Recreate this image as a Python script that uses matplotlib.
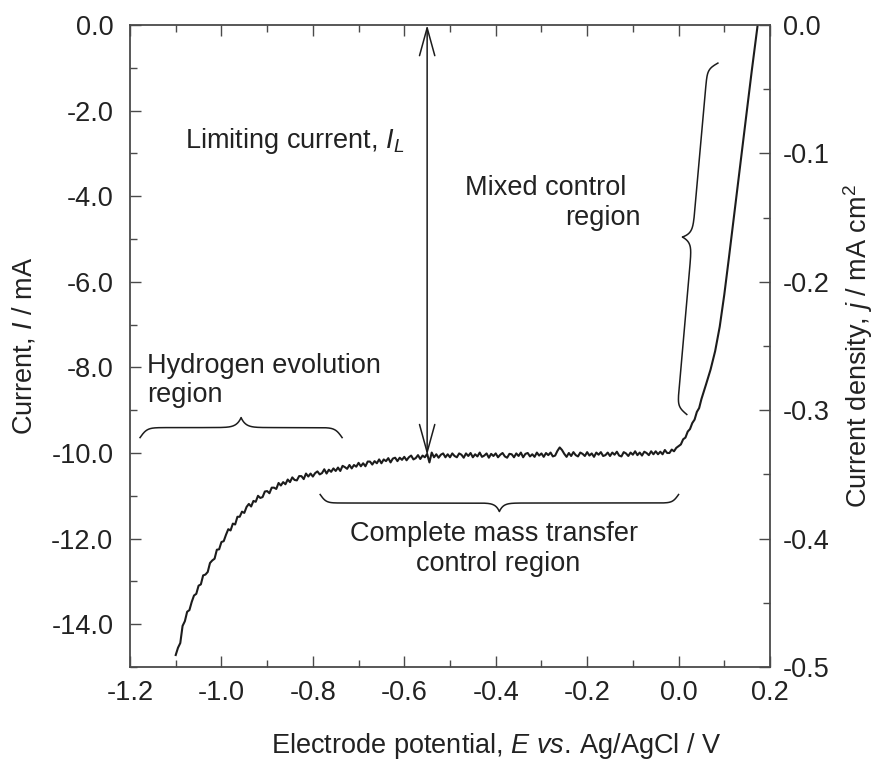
import numpy as np
import matplotlib
matplotlib.use("Agg")
import matplotlib.pyplot as plt
from matplotlib.ticker import MultipleLocator, FormatStrFormatter

plt.rcParams["font.family"] = ["Liberation Sans", "DejaVu Sans"]
plt.rcParams["mathtext.fontset"] = "custom"
plt.rcParams["mathtext.rm"] = "Liberation Sans"
plt.rcParams["mathtext.it"] = "Liberation Sans:italic"
plt.rcParams["axes.unicode_minus"] = False

# Linear sweep voltammogram: electrode potential (V vs. Ag/AgCl) and current (mA)
potential = [
    -1.100, -1.095, -1.090, -1.085, -1.080, -1.075, -1.070, -1.065, -1.060, -1.055,
    -1.050, -1.045, -1.040, -1.035, -1.030, -1.025, -1.020, -1.015, -1.010, -1.005,
    -1.000, -0.995, -0.990, -0.985, -0.980, -0.975, -0.970, -0.965, -0.960, -0.955,
    -0.950, -0.945, -0.940, -0.935, -0.930, -0.925, -0.920, -0.915, -0.910, -0.905,
    -0.900, -0.895, -0.890, -0.885, -0.880, -0.875, -0.870, -0.865, -0.860, -0.855,
    -0.850, -0.845, -0.840, -0.835, -0.830, -0.825, -0.820, -0.815, -0.810, -0.805,
    -0.800, -0.795, -0.790, -0.785, -0.780, -0.775, -0.770, -0.765, -0.760, -0.755,
    -0.750, -0.745, -0.740, -0.735, -0.730, -0.725, -0.720, -0.715, -0.710, -0.705,
    -0.700, -0.695, -0.690, -0.685, -0.680, -0.675, -0.670, -0.665, -0.660, -0.655,
    -0.650, -0.645, -0.640, -0.635, -0.630, -0.625, -0.620, -0.615, -0.610, -0.605,
    -0.600, -0.595, -0.590, -0.585, -0.580, -0.575, -0.570, -0.565, -0.560, -0.555,
    -0.550, -0.545, -0.540, -0.535, -0.530, -0.525, -0.520, -0.515, -0.510, -0.505,
    -0.500, -0.495, -0.490, -0.485, -0.480, -0.475, -0.470, -0.465, -0.460, -0.455,
    -0.450, -0.445, -0.440, -0.435, -0.430, -0.425, -0.420, -0.415, -0.410, -0.405,
    -0.400, -0.395, -0.390, -0.385, -0.380, -0.375, -0.370, -0.365, -0.360, -0.355,
    -0.350, -0.345, -0.340, -0.335, -0.330, -0.325, -0.320, -0.315, -0.310, -0.305,
    -0.300, -0.295, -0.290, -0.285, -0.280, -0.275, -0.270, -0.265, -0.260, -0.255,
    -0.250, -0.245, -0.240, -0.235, -0.230, -0.225, -0.220, -0.215, -0.210, -0.205,
    -0.200, -0.195, -0.190, -0.185, -0.180, -0.175, -0.170, -0.165, -0.160, -0.155,
    -0.150, -0.145, -0.140, -0.135, -0.130, -0.125, -0.120, -0.115, -0.110, -0.105,
    -0.100, -0.095, -0.090, -0.085, -0.080, -0.075, -0.070, -0.065, -0.060, -0.055,
    -0.050, -0.045, -0.040, -0.035, -0.030, -0.025, -0.020, -0.015, -0.010, -0.005,
    0.000, 0.005, 0.010, 0.015, 0.020, 0.025, 0.030, 0.035, 0.040, 0.045,
    0.050, 0.060, 0.070, 0.080, 0.090, 0.100, 0.110, 0.120, 0.130, 0.140,
    0.150, 0.160, 0.170, 0.173,
]
current = [
    -14.72, -14.55, -14.44, -14.04, -13.93, -13.71, -13.67, -13.48, -13.33, -13.29,
    -13.10, -13.07, -12.86, -12.84, -12.78, -12.57, -12.51, -12.47, -12.26, -12.25,
    -12.08, -12.06, -11.91, -11.78, -11.81, -11.65, -11.67, -11.49, -11.49, -11.37,
    -11.40, -11.26, -11.19, -11.25, -11.12, -11.14, -11.00, -11.05, -11.03, -10.90,
    -10.89, -10.94, -10.81, -10.81, -10.84, -10.70, -10.76, -10.68, -10.73, -10.62,
    -10.68, -10.57, -10.63, -10.64, -10.54, -10.54, -10.61, -10.48, -10.55, -10.48,
    -10.55, -10.47, -10.43, -10.50, -10.47, -10.38, -10.48, -10.39, -10.44, -10.36,
    -10.42, -10.34, -10.42, -10.30, -10.33, -10.37, -10.28, -10.36, -10.28, -10.32,
    -10.23, -10.31, -10.24, -10.31, -10.20, -10.20, -10.27, -10.19, -10.24, -10.15,
    -10.24, -10.15, -10.19, -10.12, -10.22, -10.13, -10.11, -10.19, -10.11, -10.16,
    -10.09, -10.17, -10.10, -10.06, -10.15, -10.12, -10.05, -10.14, -10.06, -10.10,
    -10.02, -10.22, -9.99, -10.10, -10.03, -10.11, -10.04, -10.01, -10.10, -10.03,
    -10.10, -10.01, -10.07, -10.10, -10.01, -10.04, -10.11, -10.01, -10.07, -10.00,
    -10.10, -10.03, -10.08, -9.99, -10.09, -10.06, -10.01, -10.11, -10.02, -10.07,
    -10.01, -10.10, -10.04, -10.00, -10.08, -10.11, -10.02, -10.03, -10.10, -10.01,
    -10.07, -9.99, -10.10, -10.02, -10.00, -10.08, -10.03, -10.09, -9.99, -10.06,
    -10.01, -10.09, -10.00, -10.05, -9.99, -10.08, -10.06, -9.95, -9.87, -9.93,
    -10.02, -10.09, -10.00, -10.07, -9.98, -10.05, -10.08, -9.99, -10.02, -10.07,
    -9.98, -10.06, -10.01, -10.09, -9.99, -10.04, -9.98, -10.07, -10.05, -9.99,
    -10.07, -9.99, -10.04, -9.97, -10.06, -10.08, -9.98, -10.01, -10.07, -9.99,
    -10.04, -9.96, -10.05, -9.99, -10.06, -9.97, -10.00, -10.05, -9.96, -10.03,
    -9.96, -10.03, -9.97, -10.03, -9.93, -10.00, -10.00, -9.92, -9.96, -9.88,
    -9.84, -9.80, -9.68, -9.64, -9.50, -9.44, -9.30, -9.22, -9.04, -8.95,
    -8.74, -8.40, -8.05, -7.62, -7.05, -6.30, -5.45, -4.57, -3.70, -2.82,
    -1.95, -1.08, -0.25, 0.00,
]

# Axis ranges: current on the left, the same data as current density on the right
potential_limits = (-1.2, 0.2)
current_limits = (-15.0, 0.0)
density_limits = (-0.5, 0.0)

line_color = "#1c1c1c"
axis_color = "#4a4a4a"
text_color = "#222222"
fs = 19.5

fig = plt.figure(figsize=(8.82, 7.62), dpi=100)
ax = fig.add_axes([130 / 882, 1 - 667 / 762, 640 / 882, 642 / 762])

ax.plot(potential, current, color=line_color, lw=1.5)

ax.set_xlim(*potential_limits)
ax.set_ylim(*current_limits)
ax.xaxis.set_major_locator(MultipleLocator(0.2))
ax.xaxis.set_minor_locator(MultipleLocator(0.1))
ax.yaxis.set_major_locator(MultipleLocator(2.0))
ax.yaxis.set_minor_locator(MultipleLocator(1.0))
ax.xaxis.set_major_formatter(FormatStrFormatter("%.1f"))
ax.yaxis.set_major_formatter(FormatStrFormatter("%.1f"))
ax.tick_params(axis="both", which="both", direction="in", colors=axis_color,
               labelcolor=text_color, labelsize=fs, width=1.0)
ax.tick_params(axis="x", which="major", length=8, pad=9, top=True)
ax.tick_params(axis="x", which="minor", length=5, top=True)
ax.tick_params(axis="y", which="major", length=8, pad=12)
ax.tick_params(axis="y", which="minor", length=5)
for sp in ax.spines.values():
    sp.set_color(axis_color)
    sp.set_linewidth(1.3)

ax.set_xlabel("Electrode potential, $E$ $vs.\\,$Ag/AgCl / V", fontsize=fs, color=text_color)
ax.xaxis.set_label_coords(0.572, -0.10)
ax.set_ylabel("Current, $I$ / mA", fontsize=fs, color=text_color)
ax.yaxis.set_label_coords(-0.145, 0.5)

ax2 = ax.twinx()
ax2.set_ylim(*density_limits)
ax2.yaxis.set_major_locator(MultipleLocator(0.1))
ax2.yaxis.set_minor_locator(MultipleLocator(0.05))
ax2.yaxis.set_major_formatter(FormatStrFormatter("%.1f"))
ax2.tick_params(axis="y", which="both", direction="in", colors=axis_color,
                labelcolor=text_color, labelsize=fs, width=1.0)
ax2.tick_params(axis="y", which="major", length=8, pad=9)
ax2.tick_params(axis="y", which="minor", length=5)
for sp in ax2.spines.values():
    sp.set_visible(False)
ax2.set_ylabel("Current density, $j$ / mA cm$^2$", fontsize=fs, color=text_color)
ax2.yaxis.set_label_coords(1.112, 0.5)


def draw_brace(axis, p0, p1, width, side=1, **kw):
    # build the curly brace in pixel space so its curls keep their shape
    trans = axis.transData
    a = trans.transform(p0)
    b = trans.transform(p1)
    d = b - a
    length = np.hypot(*d)
    t = d / length
    n = np.array([-t[1], t[0]]) * side
    u = np.linspace(0, length / 2, 300)
    v = width * (np.tanh(u / (0.7 * width)) + np.exp(-(length / 2 - u) / (0.45 * width)))
    u = np.concatenate([u, length - u[::-1]])
    v = np.concatenate([v, v[::-1]])
    pts = a + np.outer(u, t) + np.outer(v, n)
    data = trans.inverted().transform(pts)
    axis.plot(data[:, 0], data[:, 1], **kw)


brace_kw = dict(color=line_color, lw=1.1, clip_on=False)
draw_brace(ax, (-1.178, -9.64), (-0.736, -9.64), 10, side=1, **brace_kw)
draw_brace(ax, (-0.784, -10.97), (-0.0, -10.97), 8.5, side=-1, **brace_kw)
draw_brace(ax, (0.086, -0.89), (0.018, -9.10), 10, side=-1, **brace_kw)

ax.annotate("", xy=(-0.55, 0.0), xytext=(-0.55, -10.05),
            arrowprops=dict(arrowstyle="<->,head_length=2.0,head_width=0.55",
                            color=line_color, lw=1.1, shrinkA=0, shrinkB=0,
                            mutation_scale=10))

txt = dict(fontsize=fs, color=text_color)
ax.text(-1.080, -2.87, "Limiting current, $I_L$", va="baseline", ha="left", **txt)
ax.text(-0.467, -3.97, "Mixed control", va="baseline", ha="left", **txt)
ax.text(-0.248, -4.67, "region", va="baseline", ha="left", **txt)
ax.text(-1.163, -8.12, "Hydrogen evolution", va="baseline", ha="left", **txt)
ax.text(-1.163, -8.82, "region", va="baseline", ha="left", **txt)
ax.text(-0.403, -12.06, "Complete mass transfer", va="baseline", ha="center", **txt)
ax.text(-0.395, -12.76, "control region", va="baseline", ha="center", **txt)

fig.savefig("out.png", dpi=100)
